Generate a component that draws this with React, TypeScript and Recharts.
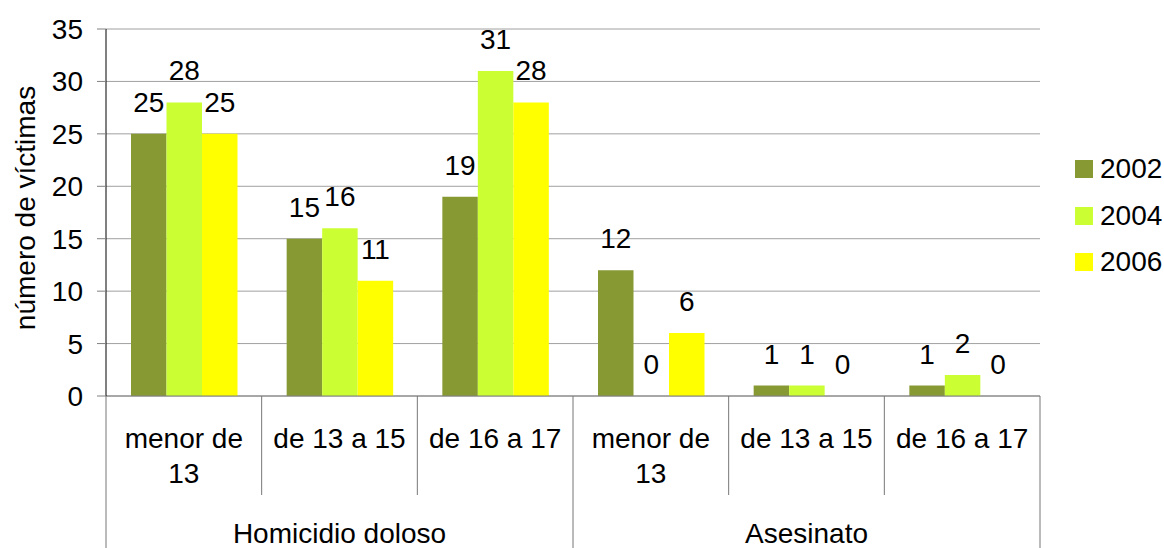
import { BarChart, Bar, XAxis, YAxis, CartesianGrid, Legend, LabelList } from 'recharts'

const categories = ['menor de 13', 'de 13 a 15', 'de 16 a 17', 'menor de 13', 'de 13 a 15', 'de 16 a 17']
const groups = ['Homicidio doloso', 'Homicidio doloso', 'Homicidio doloso', 'Asesinato', 'Asesinato', 'Asesinato']
const v2002 = [25, 15, 19, 12, 1, 1]
const v2004 = [28, 16, 31, 0, 1, 2]
const v2006 = [25, 11, 28, 6, 0, 0]
const yTicks = [0, 5, 10, 15, 20, 25, 30, 35]
const yTitle = 'número de víctimas'

const series = [
  { key: 'y2002', name: '2002', color: '#879933' },
  { key: 'y2004', name: '2004', color: '#ccff33' },
  { key: 'y2006', name: '2006', color: '#ffff00' },
]

const data = categories.map((name, i) => ({
  name,
  group: groups[i],
  y2002: v2002[i],
  y2004: v2004[i],
  y2006: v2006[i],
}))

// index of the middle category of each group, where the group title goes
const groupMid: Record<number, string> = {}
groups.forEach((g, i) => {
  if (i === 0 || groups[i - 1] !== g) {
    let end = i
    while (end + 1 < groups.length && groups[end + 1] === g) end++
    groupMid[Math.floor((i + end) / 2)] = g
  }
})

const FONT = '"Liberation Sans", Arial, sans-serif'
const FS = 28
const TOP = 29
const BOTTOM = 152
const LEFT = 106
const RIGHT = 124
const LEGEND_W = 90
const W = 1164
const H = 548

let ctx: CanvasRenderingContext2D | null = null
function wrap(label: string, maxWidth: number): string[] {
  if (!ctx) ctx = document.createElement('canvas').getContext('2d')
  if (!ctx) return [label]
  ctx.font = `${FS}px ${FONT}`
  const lines: string[] = []
  let cur = ''
  for (const word of label.split(' ')) {
    const next = cur ? cur + ' ' + word : word
    if (cur && ctx.measureText(next).width > maxWidth) {
      lines.push(cur)
      cur = word
    } else {
      cur = next
    }
  }
  if (cur) lines.push(cur)
  return lines
}

function CategoryTick(props: any) {
  const { x, y, payload, index } = props
  const half = payload?.offset || (W - LEFT - RIGHT) / categories.length / 2
  const last = index === categories.length - 1
  const newGroup = index === 0 || groups[index] !== groups[index - 1]
  const lines = wrap(String(payload.value), 140)
  return (
    <g>
      <line x1={x - half} y1={y} x2={x - half} y2={newGroup ? H : y + 99} stroke="#777" />
      {last && <line x1={x + half} y1={y} x2={x + half} y2={H} stroke="#777" />}
      <text x={x} y={y + 52} textAnchor="middle" fontSize={FS} fontFamily={FONT} fill="#000">
        {lines.map((l, i) => (
          <tspan key={i} x={x} dy={i === 0 ? 0 : 35}>
            {l}
          </tspan>
        ))}
      </text>
      {groupMid[index] && (
        <text x={x} y={y + 147} textAnchor="middle" fontSize={FS} fontFamily={FONT} fill="#000">
          {groupMid[index]}
        </text>
      )}
    </g>
  )
}

function ValueLabel(props: any) {
  const { x, y, width, height, value } = props
  if (value == null) return null
  const top = Math.min(Number(y), Number(y) + Number(height))
  return (
    <text x={Number(x) + Number(width) / 2} y={top - 22} textAnchor="middle" fontSize={FS} fontFamily={FONT} fill="#000">
      {value}
    </text>
  )
}

function LegendBox(props: any) {
  const items = props.payload || []
  return (
    <div style={{ fontFamily: FONT, fontSize: FS, color: '#000' }}>
      {items.map((it: any) => (
        <div key={it.value} style={{ display: 'flex', alignItems: 'center', height: 46.5 }}>
          <span style={{ width: 18, height: 18, background: it.color, display: 'inline-block', marginRight: 7 }} />
          <span>{it.value}</span>
        </div>
      ))}
    </div>
  )
}

export default function App() {
  return (
    <div style={{ position: 'absolute', left: 0, top: 0, width: W, height: H, background: '#fff' }}>
      <BarChart
        width={W}
        height={H}
        data={data}
        margin={{ top: TOP, right: RIGHT - LEGEND_W, bottom: 0, left: 0 }}
        barGap={0}
        barSize={35.5}
      >
        <CartesianGrid vertical={false} stroke="#a0a0a0" />
        <XAxis
          dataKey="name"
          interval={0}
          height={BOTTOM}
          tickSize={0}
          tickMargin={0}
          tickLine={false}
          axisLine={{ stroke: '#808080' }}
          tick={<CategoryTick />}
        />
        <YAxis
          width={LEFT}
          domain={[0, 35]}
          ticks={yTicks}
          interval={0}
          tickSize={9}
          tickMargin={14}
          axisLine={{ stroke: '#000' }}
          tickLine={{ stroke: '#808080' }}
          tick={{ fontSize: FS, fontFamily: FONT, fill: '#000' }}
          label={{
            value: yTitle,
            content: () => (
              <text
                x={25}
                y={208}
                transform="rotate(-90 25 208)"
                textAnchor="middle"
                dominantBaseline="central"
                fontSize={FS}
                fontFamily={FONT}
                fill="#000"
              >
                {yTitle}
              </text>
            ),
          }}
        />
        <Legend
          content={<LegendBox />}
          layout="vertical"
          align="right"
          verticalAlign="middle"
          wrapperStyle={{ position: 'absolute', left: 1075, top: 146, width: LEGEND_W }}
        />
        {series.map((s) => (
          <Bar
            key={s.key}
            dataKey={s.key}
            name={s.name}
            fill={s.color}
            minPointSize={0.01}
            isAnimationActive={false}
          >
            <LabelList dataKey={s.key} content={<ValueLabel />} />
          </Bar>
        ))}
      </BarChart>
    </div>
  )
}
